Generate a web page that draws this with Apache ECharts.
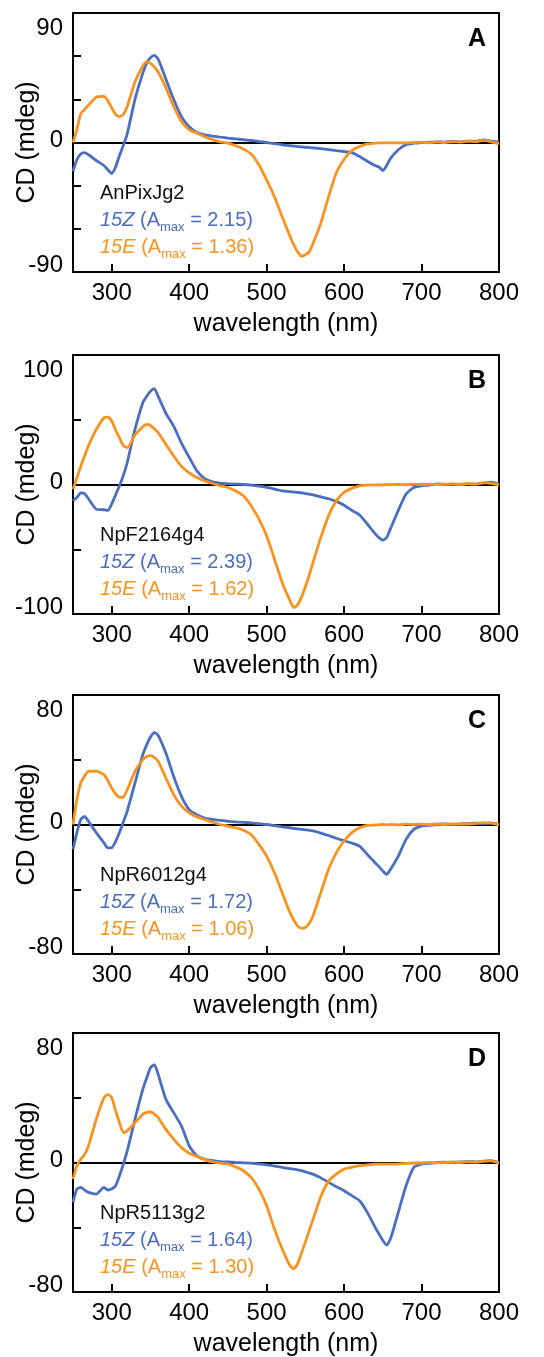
<!DOCTYPE html>
<html>
<head>
<meta charset="utf-8">
<script src="https://cdn.jsdelivr.net/npm/echarts/dist/echarts.min.js"></script>
<style>
  html, body { margin: 0; padding: 0; background: #fff; }
  #chart { width: 544px; height: 1357px; }
</style>
</head>
<body>
<div id="chart"></div>
<script>
// shared wavelength grid (nm)
const wavelength = [250,255,260,265,270,280,290,295,300,305,310,315,320,330,340,345,350,355,360,
  370,380,390,400,410,420,430,440,450,460,470,480,490,500,510,520,530,535,540,545,550,555,560,
  570,580,590,600,610,620,630,640,645,650,655,660,670,680,690,700,710,720,730,740,750,760,770,780,790,800];

// CD (mdeg), 15Z = blue, 15E = orange
const zA = [-20,-12,-8,-7,-8.5, -12.5,-16,-19,-21.5,-17,-9,-2,6, 30,48,55,59,60.5,58,
  44,30,18,11,7,5.3,4.5,3.7,3,2.5,2,1.4,0.7,0,-0.8,-1.6,-2.2, -2.5,-2.8,-3,-3.3,-3.5,-3.7,
  -4.3,-5,-5.7,-6.3,-7,-9.7,-13,-16, -17,-19.5,-16,-11, -5,-1.5,-0.5,0, 0.3,0.5,0.3,0.8,0.5,1,0.8,1.8,1,0.3];
const eA = [0,9,20,23,26, 31.5,32,29,24,19.5,18,19.5,25, 42,53,56,55,52.5,49,
  38,25,14.6,9,6.5,4,2,0.5,-0.5,-2.3,-4.6,-8,-15.5,-26,-37.6,-51.5,-65, -71,-76,-79,-78,-76,-70,
  -56,-37.6,-21,-11.6,-5.6,-2.8,-1,-0.5, -0.3,-0.3,-0.2,-0.3, -0.2,-0.3,0,0.2, -0.2,0.3,0,0.5,0.3,1,0.5,1.5,0.5,-1];

const zB = [-12.5,-10,-6.5,-7,-11, -19,-19.5,-20,-15,-8,-1,7,17, 42.5,63,68,72,74,68,
  55,45,32,21,10.5,4.6,2,1,0.6,0.3,0,-0.5,-1.3,-2.3,-3.5,-5,-5.5, -5.8,-6,-6.5,-7,-7.5,-8,
  -9.5,-11,-13,-16,-20,-23.6,-30.5,-38, -41,-43,-41,-34, -20,-7.4,-2.3,-1, -0.5,0.5,0,0.2,0,0.5,0.3,1,1.8,0];
const eB = [-3.6,5,14,22,30, 42.5,51.5,52,49,42,36,30,28.5, 38,44.6,46.4,45.6,43,40,
  31,22,14,9,5.4,2.8,0.8,-1,-2.3,-5,-8.7,-16.4,-26.7,-39.5,-57.4,-75.4,-89.5, -95,-93,-87,-79,-70,-60,
  -40.8,-24,-12.6,-6,-3,-1,-0.5,-0.3, -0.2,-0.3,0,-0.2, 0,-0.2,0.2,0, 0.3,0,0.3,0.5,0.2,0.6,0.3,1.5,0.8,-0.5];

const zC = [-15.4,-5,3,5,2, -5,-11.3,-14.5,-14.4,-10.5,-5,1.5,8.2, 25.6,43,49,54,56.8,55,
  44,29.7,17.4,9.2,6,4,3.2,2.5,2,1.6,1.3,1,0.5,0,-0.7,-1.4,-2, -2.4,-2.7,-3,-3.3,-3.6,-4,
  -5.3,-6.8,-8.5,-10,-11.5,-13.3,-18.5,-23.6, -26,-28.7,-30.8,-27.7, -19.5,-9.2,-3,-1, -0.5,0,0.3,0,0.3,0.6,0.8,0.5,1,0];
const eC = [0,15.4,25.6,30,32.8, 33,30.8,27,22.6,19,16.8,17,21.5, 32.8,40,42,42.5,41.5,39,
  28.7,18.5,11.3,7.2,4.7,3,1.4,0,-1,-2,-3.5,-6.2,-12.3,-19.5,-29.7,-42,-54.4, -59,-62.6,-64.2,-63.6,-61,-56.4,
  -42,-27.7,-17.4,-10.2,-5,-2,-0.6,-0.3, -0.2,0,-0.2,0, -0.2,0.2,0,0.2, 0,0.3,0,0.4,0.2,0.3,0.6,1.2,0.8,-0.3];

const zD = [-24.6,-16.4,-15.4,-17,-18.5, -19.5,-15.4,-17,-16.4,-14.4,-8.2,-1,7.2, 26.7,45,52,58.5,60.5,54.4,
  39,30.8,22.6,10.3,4.1,2,1.2,0.6,0.3,0,-0.2,-0.4,-0.9,-1.4,-2.2,-3,-3.8, -4.1,-4.5,-5,-5.8,-6.5,-7.2,
  -9.5,-12.3,-15,-17.4,-20.5,-23.6,-30.8,-40, -44,-48.2,-51,-47, -30.8,-14.4,-3,-1, -0.5,0,0.2,0,0.3,0.5,0.4,0.8,1.2,0];
const eD = [-10.3,-2,2,5,10.3, 26.7,40,42,40,32,24.6,18.5,19.5, 24.6,29.7,31,31.2,30,27.7,
  20.5,14.4,9.2,5.7,3.7,1.6,0.4,-0.4,-1,-2.7,-5.1,-9.2,-16.4,-26.7,-41,-53.3,-63.6, -65.6,-62.6,-56,-49.2,-42,-35,
  -21,-11.5,-7.2,-4.1,-3,-2,-1.5,-1, -1,-1,-1,-1, -0.8,-0.5,-0.3,-0.3, 0,-0.2,0,0.3,0,0.4,0.2,0.8,1,-0.5];

const panelLetters = ['A', 'B', 'C', 'D'];
const sampleNames = ['AnPixJg2', 'NpF2164g4', 'NpR6012g4', 'NpR5113g2'];
const zAmax = ['2.15', '2.39', '1.72', '1.64'];
const eAmax = ['1.36', '1.62', '1.06', '1.30'];
const yLimit = [90, 100, 80, 80];
const yStep = [30, 50, 40, 40];
const xTicks = [300, 400, 500, 600, 700, 800];
const zSeries = [zA, zB, zC, zD];
const eSeries = [eA, eB, eC, eD];

const blue = '#4a6fc0';
const orange = '#f7931e';
const font = 'Liberation Sans, Arial, sans-serif';
const gridTops = [13, 355, 695, 1033];

let dom = document.getElementById('chart');
let myChart = echarts.init(dom, null, { renderer: 'canvas' });

let grids = [], xAxes = [], yAxes = [], series = [], graphics = [];

gridTops.forEach(function (top, i) {
  grids.push({
    left: 73, width: 426, top: top, height: 259,
    outerBoundsMode: 'none', containLabel: false,
    show: true, borderColor: '#000', borderWidth: 2, backgroundColor: 'transparent'
  });

  xAxes.push({
    type: 'value', gridIndex: i, min: 250, max: 800, interval: 50,
    axisLine: { show: true, onZero: false, lineStyle: { color: '#000', width: 2 } },
    axisTick: { show: true, inside: true, length: 8, customValues: xTicks, lineStyle: { color: '#000', width: 2 } },
    axisLabel: { customValues: xTicks, fontSize: 24, color: '#000', margin: 9, fontFamily: font },
    splitLine: { show: false },
    name: 'wavelength (nm)', nameLocation: 'middle', nameGap: 40, nameMoveOverlap: false,
    nameTextStyle: { fontSize: 25, color: '#000', fontFamily: font }
  });

  let L = yLimit[i];
  yAxes.push({
    type: 'value', gridIndex: i, min: -L, max: L, interval: yStep[i],
    axisLine: { show: true, lineStyle: { color: '#000', width: 2 } },
    axisTick: { show: true, inside: true, length: 8, lineStyle: { color: '#000', width: 2 } },
    axisLabel: {
      customValues: [-L, 0, L], fontSize: 24, color: '#000', margin: 10, fontFamily: font,
      formatter: function (v) {
        if (v === L) return '{t|' + v + '}';
        if (v === -L) return '{b|' + v + '}';
        return '{m|' + v + '}';
      },
      rich: {
        t: { fontSize: 24, fontFamily: font, color: '#000', padding: [30, 0, 0, 0] },
        b: { fontSize: 24, fontFamily: font, color: '#000', padding: [0, 0, 14, 0] },
        m: { fontSize: 24, fontFamily: font, color: '#000', padding: [0, 0, 4, 0] }
      }
    },
    splitLine: { show: false },
    name: 'CD (mdeg)', nameLocation: 'middle', nameGap: 33, nameMoveOverlap: false,
    nameTextStyle: { fontSize: 25, color: '#000', fontFamily: font }
  });

  series.push({
    name: '15Z', type: 'line', xAxisIndex: i, yAxisIndex: i, z: 3,
    data: wavelength.map(function (w, k) { return [w, zSeries[i][k]]; }),
    showSymbol: false, smooth: 0.2, silent: true,
    lineStyle: { color: blue, width: 2.8 },
    markLine: {
      silent: true, symbol: 'none', z: 1, label: { show: false },
      lineStyle: { color: '#000', width: 2, type: 'solid' },
      data: [{ yAxis: 0 }]
    }
  });
  series.push({
    name: '15E', type: 'line', xAxisIndex: i, yAxisIndex: i, z: 4,
    data: wavelength.map(function (w, k) { return [w, eSeries[i][k]]; }),
    showSymbol: false, smooth: 0.2, silent: true,
    lineStyle: { color: orange, width: 2.8 }
  });

  graphics.push({
    type: 'text', x: 477, y: top + 26,
    style: { text: panelLetters[i], fontSize: 25, fontWeight: 'bold', fontFamily: font,
      fill: '#000', align: 'center', verticalAlign: 'middle' }
  });
  graphics.push({
    type: 'text', x: 100, y: top + 167,
    style: {
      text: '{n|' + sampleNames[i] + '}\n' +
        '{zi|15Z}{z| (A}{zs|max}{z| = ' + zAmax[i] + ')}\n' +
        '{ei|15E}{e| (A}{es|max}{e| = ' + eAmax[i] + ')}',
      fontFamily: font, align: 'left', verticalAlign: 'top',
      rich: {
        n: { fontSize: 20, fontFamily: font, fill: '#111', lineHeight: 27 },
        zi: { fontSize: 20, fontFamily: font, fontStyle: 'italic', fill: blue, lineHeight: 27 },
        z: { fontSize: 20, fontFamily: font, fill: blue, lineHeight: 27 },
        zs: { fontSize: 13, fontFamily: font, fill: blue, padding: [14, 0, 0, 0] },
        ei: { fontSize: 20, fontFamily: font, fontStyle: 'italic', fill: orange, lineHeight: 27 },
        e: { fontSize: 20, fontFamily: font, fill: orange, lineHeight: 27 },
        es: { fontSize: 13, fontFamily: font, fill: orange, padding: [14, 0, 0, 0] }
      }
    }
  });
});

let option = {
  animation: false,
  backgroundColor: '#fff',
  grid: grids,
  xAxis: xAxes,
  yAxis: yAxes,
  series: series,
  graphic: graphics
};

myChart.setOption(option);
window.addEventListener('resize', myChart.resize);
</script>
</body>
</html>
